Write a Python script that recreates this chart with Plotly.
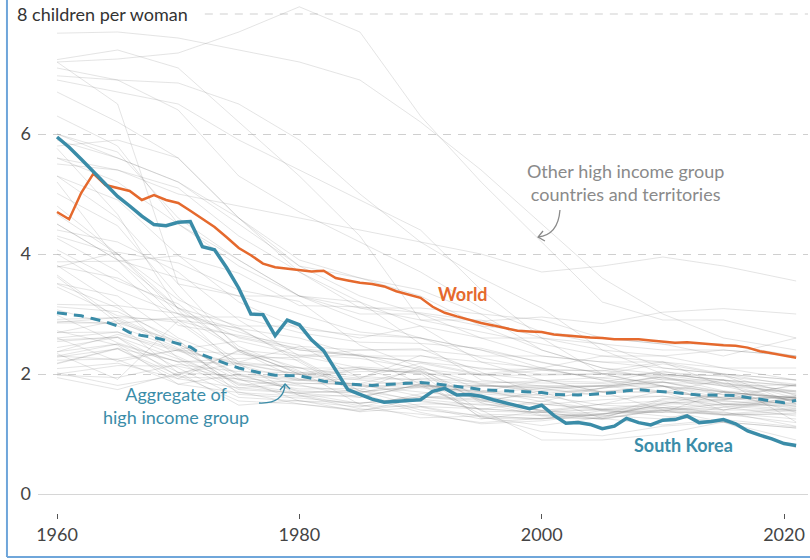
import plotly.graph_objects as go

years = list(range(1960, 2022))

south_korea = [5.95, 5.78, 5.58, 5.37, 5.16, 4.96, 4.80, 4.63, 4.49, 4.47,
               4.53, 4.54, 4.12, 4.07, 3.77, 3.43, 3.00, 2.99, 2.64, 2.90,
               2.82, 2.57, 2.39, 2.06, 1.74, 1.66, 1.58, 1.53, 1.55, 1.56,
               1.57, 1.71, 1.76, 1.65, 1.66, 1.63, 1.57, 1.52, 1.46, 1.42,
               1.48, 1.31, 1.18, 1.19, 1.16, 1.09, 1.13, 1.26, 1.19, 1.15,
               1.23, 1.24, 1.30, 1.19, 1.21, 1.24, 1.17, 1.05, 0.98, 0.92,
               0.84, 0.81]

world = [4.70, 4.58, 5.02, 5.34, 5.15, 5.10, 5.05, 4.90, 4.98, 4.90,
         4.85, 4.72, 4.58, 4.45, 4.28, 4.10, 3.98, 3.84, 3.78, 3.76,
         3.73, 3.71, 3.72, 3.60, 3.56, 3.52, 3.50, 3.46, 3.38, 3.32,
         3.27, 3.12, 3.02, 2.96, 2.90, 2.85, 2.81, 2.76, 2.72, 2.71,
         2.70, 2.66, 2.64, 2.62, 2.61, 2.60, 2.58, 2.58, 2.58, 2.56,
         2.54, 2.52, 2.53, 2.51, 2.49, 2.48, 2.47, 2.44, 2.38, 2.34,
         2.30, 2.27]

high_income = [3.02, 3.00, 2.97, 2.92, 2.87, 2.80, 2.69, 2.64, 2.61, 2.56,
               2.50, 2.45, 2.32, 2.24, 2.17, 2.10, 2.05, 2.01, 1.98, 1.98,
               1.97, 1.93, 1.88, 1.85, 1.83, 1.82, 1.81, 1.82, 1.84, 1.85,
               1.86, 1.84, 1.82, 1.80, 1.77, 1.74, 1.73, 1.72, 1.70, 1.69,
               1.69, 1.66, 1.65, 1.65, 1.66, 1.67, 1.69, 1.72, 1.74, 1.72,
               1.71, 1.69, 1.67, 1.65, 1.65, 1.65, 1.64, 1.61, 1.58, 1.54,
               1.52, 1.56]

other_years = [1960, 1965, 1970, 1975, 1980, 1985, 1990, 1995, 2000, 2005, 2010, 2015, 2021]

other_names = [
    "Australia", "Austria", "Belgium", "Canada", "Chile", "Croatia", "Cyprus", "Czechia",
    "Denmark", "Estonia", "Finland", "France", "Germany", "Greece", "Hong Kong", "Hungary",
    "Iceland", "Ireland", "Israel", "Italy", "Japan", "Kuwait", "Latvia", "Lithuania",
    "Luxembourg", "Macao", "Malta", "Netherlands", "New Zealand", "Norway", "Oman", "Poland",
    "Portugal", "Puerto Rico", "Qatar", "Romania", "Saudi Arabia", "Singapore", "Slovakia",
    "Slovenia", "Spain", "Sweden", "Switzerland", "United Kingdom", "United States", "Uruguay",
    "Trinidad and Tobago", "Barbados", "Bahamas", "Bahrain", "United Arab Emirates", "Brunei",
    "Panama", "Seychelles", "Antigua and Barbuda", "St. Kitts and Nevis", "Aruba", "Guam",
    "New Caledonia", "French Polynesia", "Greenland", "Faroe Islands", "Curacao",
    "Virgin Islands (U.S.)", "Nauru", "Bermuda", "Cayman Islands", "Channel Islands", "Isle of Man",
]

other_values = [
    [3.45, 2.97, 2.86, 2.15, 1.89, 1.92, 1.91, 1.82, 1.76, 1.81, 1.95, 1.80, 1.70],
    [2.69, 2.70, 2.29, 1.83, 1.65, 1.47, 1.46, 1.42, 1.36, 1.41, 1.44, 1.49, 1.48],
    [2.54, 2.62, 2.25, 1.74, 1.68, 1.51, 1.62, 1.56, 1.67, 1.76, 1.86, 1.70, 1.60],
    [3.81, 3.15, 2.26, 1.85, 1.68, 1.61, 1.83, 1.64, 1.49, 1.57, 1.63, 1.56, 1.43],
    [5.30, 4.90, 3.98, 3.20, 2.75, 2.65, 2.60, 2.27, 2.07, 1.93, 1.86, 1.83, 1.54],
    [2.30, 2.24, 1.83, 2.00, 1.92, 1.83, 1.63, 1.58, 1.39, 1.50, 1.55, 1.40, 1.58],
    [3.51, 3.30, 2.60, 2.20, 2.46, 2.40, 2.42, 2.03, 1.64, 1.48, 1.44, 1.32, 1.39],
    [2.09, 2.18, 1.92, 2.40, 2.10, 1.96, 1.90, 1.28, 1.14, 1.28, 1.51, 1.57, 1.83],
    [2.57, 2.61, 1.95, 1.92, 1.55, 1.45, 1.67, 1.80, 1.77, 1.80, 1.87, 1.71, 1.72],
    [1.98, 1.94, 2.16, 2.04, 2.02, 2.12, 2.05, 1.38, 1.36, 1.50, 1.72, 1.58, 1.61],
    [2.72, 2.48, 1.83, 1.69, 1.63, 1.64, 1.78, 1.81, 1.73, 1.80, 1.87, 1.65, 1.46],
    [2.85, 2.85, 2.55, 1.93, 1.85, 1.81, 1.77, 1.71, 1.89, 1.94, 2.03, 1.96, 1.83],
    [2.37, 2.50, 2.03, 1.48, 1.56, 1.37, 1.45, 1.25, 1.38, 1.34, 1.39, 1.50, 1.58],
    [2.23, 2.25, 2.40, 2.33, 2.23, 1.67, 1.40, 1.31, 1.25, 1.33, 1.48, 1.33, 1.43],
    [5.01, 4.47, 3.29, 2.46, 2.05, 1.49, 1.27, 1.30, 1.04, 0.97, 1.13, 1.20, 0.77],
    [2.02, 1.81, 1.98, 2.38, 1.91, 1.83, 1.87, 1.57, 1.32, 1.31, 1.25, 1.45, 1.59],
    [4.26, 3.71, 2.81, 2.65, 2.48, 1.93, 2.31, 2.08, 2.08, 2.05, 2.20, 1.80, 1.82],
    [3.78, 4.03, 3.85, 3.40, 3.21, 2.48, 2.11, 1.84, 1.89, 1.86, 2.05, 1.85, 1.72],
    [3.87, 3.88, 3.97, 3.68, 3.14, 3.12, 3.02, 2.88, 2.95, 2.84, 3.03, 3.09, 3.00],
    [2.37, 2.66, 2.38, 2.17, 1.64, 1.42, 1.33, 1.19, 1.26, 1.34, 1.44, 1.35, 1.25],
    [2.00, 2.14, 2.13, 1.91, 1.75, 1.76, 1.54, 1.42, 1.36, 1.26, 1.39, 1.45, 1.30],
    [7.24, 7.40, 7.10, 6.20, 5.30, 4.30, 2.90, 2.90, 2.60, 2.40, 2.30, 2.10, 2.10],
    [1.94, 1.74, 2.02, 1.97, 1.90, 2.09, 2.01, 1.26, 1.25, 1.39, 1.36, 1.70, 1.57],
    [2.60, 2.21, 2.40, 2.18, 2.00, 2.08, 2.03, 1.55, 1.39, 1.29, 1.50, 1.70, 1.36],
    [2.28, 2.42, 1.98, 1.55, 1.50, 1.38, 1.60, 1.69, 1.76, 1.63, 1.63, 1.47, 1.38],
    [5.20, 3.90, 2.90, 2.20, 2.10, 2.10, 1.80, 1.40, 0.90, 0.90, 1.00, 1.20, 1.10],
    [3.62, 2.85, 2.02, 2.17, 1.99, 2.04, 2.04, 1.83, 1.70, 1.38, 1.36, 1.37, 1.13],
    [3.12, 3.04, 2.57, 1.66, 1.60, 1.51, 1.62, 1.53, 1.72, 1.71, 1.79, 1.66, 1.62],
    [4.07, 3.55, 3.17, 2.37, 2.03, 1.93, 2.18, 1.98, 1.98, 2.00, 2.17, 1.99, 1.64],
    [2.91, 2.94, 2.50, 1.98, 1.72, 1.68, 1.93, 1.87, 1.85, 1.84, 1.95, 1.72, 1.55],
    [7.20, 7.25, 7.35, 7.70, 8.12, 7.70, 6.30, 5.20, 4.20, 3.20, 2.90, 2.90, 2.60],
    [2.98, 2.52, 2.20, 2.26, 2.28, 2.33, 2.06, 1.62, 1.37, 1.24, 1.41, 1.32, 1.33],
    [3.16, 3.14, 3.01, 2.75, 2.25, 1.72, 1.56, 1.41, 1.55, 1.41, 1.39, 1.31, 1.35],
    [4.66, 4.00, 3.24, 2.76, 2.60, 2.30, 2.20, 2.00, 1.90, 1.70, 1.40, 1.20, 0.90],
    [6.97, 6.90, 6.85, 6.50, 5.90, 5.00, 4.20, 3.60, 3.10, 2.40, 2.00, 1.90, 1.80],
    [2.34, 1.91, 2.89, 2.62, 2.43, 2.31, 1.83, 1.33, 1.31, 1.32, 1.59, 1.62, 1.81],
    [7.68, 7.70, 7.60, 7.40, 7.20, 6.90, 6.20, 5.40, 4.50, 3.60, 3.00, 2.60, 2.40],
    [5.76, 4.66, 3.07, 2.07, 1.82, 1.61, 1.83, 1.67, 1.60, 1.26, 1.15, 1.24, 1.12],
    [3.07, 2.80, 2.41, 2.55, 2.32, 2.26, 2.09, 1.52, 1.30, 1.25, 1.43, 1.40, 1.63],
    [2.18, 2.43, 2.21, 2.17, 2.11, 1.72, 1.46, 1.29, 1.26, 1.26, 1.57, 1.57, 1.64],
    [2.86, 2.94, 2.90, 2.77, 2.20, 1.64, 1.36, 1.17, 1.22, 1.33, 1.37, 1.33, 1.19],
    [2.17, 2.42, 1.92, 1.77, 1.68, 1.73, 2.13, 1.73, 1.54, 1.77, 1.98, 1.85, 1.67],
    [2.44, 2.61, 2.10, 1.61, 1.55, 1.52, 1.58, 1.48, 1.50, 1.42, 1.52, 1.54, 1.52],
    [2.69, 2.89, 2.43, 1.81, 1.90, 1.79, 1.83, 1.71, 1.64, 1.76, 1.92, 1.80, 1.53],
    [3.65, 2.91, 2.48, 1.77, 1.84, 1.84, 2.08, 1.98, 2.06, 2.06, 1.93, 1.84, 1.66],
    [2.88, 2.84, 2.95, 2.95, 2.69, 2.53, 2.51, 2.43, 2.19, 2.01, 1.97, 1.98, 1.50],
    [5.30, 4.60, 3.50, 3.30, 3.30, 3.20, 2.50, 1.90, 1.80, 1.80, 1.80, 1.70, 1.60],
    [4.30, 4.00, 3.10, 2.40, 2.00, 1.90, 1.80, 1.80, 1.80, 1.80, 1.70, 1.60, 1.60],
    [4.50, 3.90, 3.60, 3.30, 3.00, 2.70, 2.60, 2.40, 2.10, 1.90, 1.80, 1.50, 1.40],
    [7.10, 6.90, 6.40, 5.30, 4.70, 4.20, 3.70, 3.10, 2.70, 2.50, 2.10, 2.00, 1.80],
    [6.90, 6.70, 6.50, 5.90, 5.40, 4.90, 4.40, 3.40, 2.60, 2.00, 1.80, 1.50, 1.46],
    [6.70, 6.20, 5.60, 4.60, 3.80, 3.60, 3.40, 3.00, 2.40, 2.10, 1.90, 1.90, 1.80],
    [5.90, 5.60, 5.20, 4.50, 3.80, 3.30, 3.00, 2.80, 2.70, 2.60, 2.50, 2.50, 2.30],
    [5.80, 5.90, 5.60, 4.60, 3.70, 3.20, 2.80, 2.20, 2.10, 2.30, 2.30, 2.40, 2.30],
    [4.40, 4.20, 3.70, 2.90, 2.30, 2.10, 2.00, 2.00, 2.10, 1.90, 1.70, 1.60, 1.60],
    [6.30, 5.80, 4.50, 3.80, 3.30, 2.90, 2.60, 2.40, 2.20, 2.00, 1.80, 1.60, 1.50],
    [4.80, 4.00, 3.00, 2.70, 2.40, 2.30, 2.30, 2.20, 1.90, 1.70, 1.70, 1.90, 1.20],
    [6.00, 5.70, 4.60, 3.90, 3.30, 3.10, 3.10, 3.00, 2.90, 2.60, 2.50, 2.30, 2.60],
    [5.50, 5.40, 5.10, 4.30, 3.70, 3.10, 2.90, 2.70, 2.50, 2.30, 2.20, 2.10, 1.90],
    [6.00, 5.60, 5.20, 4.60, 3.90, 3.60, 3.30, 2.80, 2.40, 2.10, 2.00, 1.90, 1.70],
    [7.20, 6.50, 3.50, 2.40, 2.30, 2.40, 2.40, 2.30, 2.30, 2.20, 2.20, 2.00, 1.90],
    [3.80, 3.60, 3.10, 2.80, 2.80, 2.60, 2.80, 2.60, 2.60, 2.50, 2.40, 2.40, 2.30],
    [4.50, 3.90, 3.10, 2.60, 2.40, 2.30, 2.20, 2.10, 2.00, 2.00, 2.00, 1.90, 1.60],
    [5.60, 5.20, 4.50, 3.90, 3.30, 3.00, 3.00, 2.60, 2.30, 2.20, 2.10, 2.00, 1.90],
    [5.60, 5.40, 5.00, 4.80, 4.60, 4.40, 4.20, 4.00, 3.70, 3.80, 3.95, 3.80, 3.55],
    [3.50, 3.10, 2.50, 2.00, 1.70, 1.70, 1.80, 1.80, 1.80, 1.70, 1.70, 1.40, 1.40],
    [4.00, 3.40, 3.00, 2.40, 2.00, 1.80, 1.70, 1.60, 1.50, 1.40, 1.30, 1.20, 1.10],
    [2.30, 2.50, 2.20, 1.70, 1.50, 1.40, 1.50, 1.50, 1.40, 1.40, 1.50, 1.50, 1.50],
    [2.60, 2.70, 2.40, 1.90, 1.80, 1.70, 1.80, 1.70, 1.60, 1.70, 1.80, 1.70, 1.60],
]

x_ticks = [1960, 1980, 2000, 2020]
y_ticks = [0, 2, 4, 6]
y_tick_text = ["0", "2", "4", "6"]

ORANGE = "#E5692D"
TEAL = "#3A8CA8"
GREY_TEXT = "#8a8a8a"
FONT = "Lato, 'Open Sans', sans-serif"

fig = go.Figure()

for name, vals in zip(other_names, other_values):
    fig.add_trace(go.Scatter(
        x=other_years, y=vals, mode="lines", name=name,
        line=dict(color="rgba(120,120,120,0.2)", width=1),
        hoverinfo="skip", showlegend=False))

fig.add_trace(go.Scatter(x=years, y=high_income, mode="lines", name="High income",
                         line=dict(color=TEAL, width=3, dash="10px,7px"), showlegend=False))
fig.add_trace(go.Scatter(x=years, y=world, mode="lines", name="World",
                         line=dict(color=ORANGE, width=2.5), showlegend=False))
fig.add_trace(go.Scatter(x=years, y=south_korea, mode="lines", name="South Korea",
                         line=dict(color=TEAL, width=3.5), showlegend=False))

x_min, x_max = 1958.43, 2021.98
y_min, y_max = -0.3167, 8.15

shapes = [
    # top gridline at 8, starting after the label
    dict(type="line", xref="x", yref="y", x0=1972.2, x1=x_max, y0=8, y1=8,
         line=dict(color="#cfcfcf", width=1, dash="8px,7px"), layer="below"),
    # curved arrow: other countries
    dict(type="path", xref="x", yref="y",
         path="M 2001.51,4.733 Q 2001.35,4.317 1999.70,4.283",
         line=dict(color="#8a8a8a", width=1.3)),
    dict(type="path", xref="x", yref="y",
         path="M 2000.11,4.383 L 1999.70,4.283 L 2000.27,4.217",
         line=dict(color="#8a8a8a", width=1.3)),
    # curved arrow: aggregate
    dict(type="path", xref="x", yref="y",
         path="M 1976.67,1.517 Q 1978.73,1.50 1978.82,1.833",
         line=dict(color=TEAL, width=1.3)),
    dict(type="path", xref="x", yref="y",
         path="M 1978.40,1.733 L 1978.82,1.833 L 1979.23,1.75",
         line=dict(color=TEAL, width=1.3)),
    # frame
    dict(type="line", xref="paper", yref="paper", x0=-0.0403, x1=-0.0403, y0=1.0098, y1=-0.0866,
         line=dict(color="#6FA6DA", width=2)),
    dict(type="line", xref="paper", yref="paper", x0=-0.0403, x1=1.01, y0=-0.0866, y1=-0.0866,
         line=dict(color="#6FA6DA", width=2)),
]

annotations = [
    dict(text="8 children per woman", xref="paper", x=-0.0299, xanchor="left",
         yref="y", y=8, yanchor="middle", showarrow=False,
         font=dict(family=FONT, size=18, color="#333333")),
    dict(text="World", x=1993.5, y=3.33, xref="x", yref="y", showarrow=False,
         font=dict(family=FONT, size=18, color=ORANGE, weight="bold")),
    dict(text="South Korea", x=2011.7, y=0.82, xref="x", yref="y", showarrow=False,
         font=dict(family=FONT, size=18, color=TEAL, weight="bold")),
    dict(text="Aggregate of<br>high income group", x=1969.8, y=1.48, xref="x", yref="y",
         showarrow=False, align="center",
         font=dict(family=FONT, size=18, color=TEAL)),
    dict(text="Other high income group<br>countries and territories", x=2006.9, y=5.2,
         xref="x", yref="y", showarrow=False, align="center",
         font=dict(family=FONT, size=18, color=GREY_TEXT)),
]

fig.update_layout(
    width=810, height=560,
    margin=dict(l=38, r=2, t=5, b=47),
    paper_bgcolor="white", plot_bgcolor="white",
    font=dict(family=FONT, size=18, color="#444444"),
    shapes=shapes, annotations=annotations,
    xaxis=dict(range=[x_min, x_max], tickvals=x_ticks, ticktext=[str(t) for t in x_ticks],
               showgrid=False, zeroline=False, showline=False,
               ticks="outside", ticklen=5, tickwidth=1, tickcolor="#555555",
               tickfont=dict(family=FONT, size=18, color="#444444")),
    yaxis=dict(range=[y_min, y_max], tickvals=y_ticks, ticktext=y_tick_text,
               showgrid=True, gridcolor="#cfcfcf", griddash="8px,7px", gridwidth=1,
               zeroline=True, zerolinecolor="#d6d6d6", zerolinewidth=1,
               showline=False, ticks="", ticklabelstandoff=6,
               tickfont=dict(family=FONT, size=18, color="#444444")),
    hovermode=False,
)

fig.write_html(
    "out.html",
    config={"displayModeBar": False},
    post_script="document.body.style.margin='0';document.body.style.overflow='hidden';",
)
